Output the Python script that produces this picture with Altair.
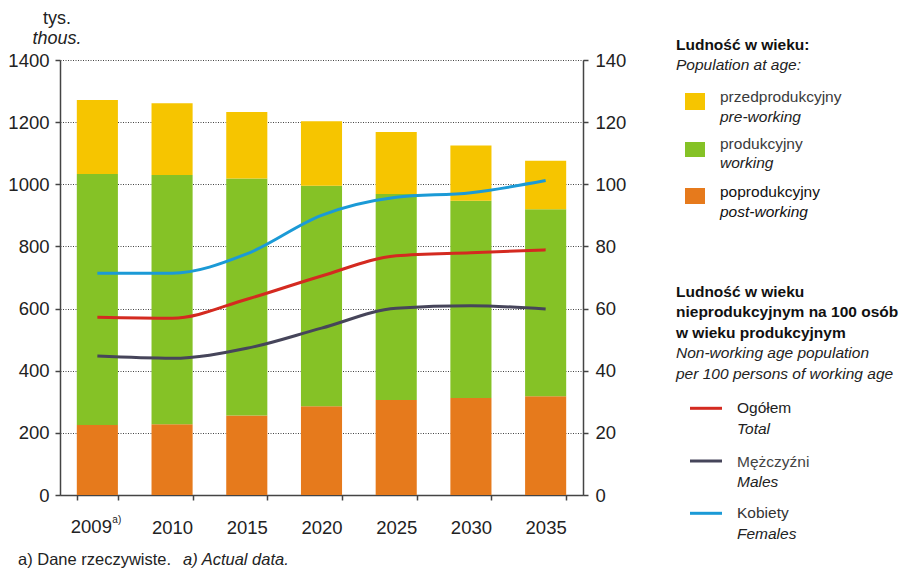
import altair as alt
import pandas as pd

FONT = "Liberation Sans"

years = ["2009", "2010", "2015", "2020", "2025", "2030", "2035"]
post_working = [225, 228, 256, 286, 306, 312, 318]
working = [808, 802, 763, 709, 663, 635, 602]
pre_working = [238, 231, 214, 208, 199, 178, 156]

total_ratio = [57.2, 56.9, 63.0, 70.5, 77.0, 78.0, 78.9]
males_ratio = [44.7, 44.0, 47.2, 53.7, 60.1, 60.9, 59.9]
females_ratio = [71.4, 71.4, 77.6, 90.0, 95.8, 97.3, 101.2]

bar_groups = ["poprodukcyjny", "produkcyjny", "przedprodukcyjny"]
bar_colors = ["#E67A1C", "#85C226", "#F6C500"]
line_groups = ["Ogółem", "Mężczyźni", "Kobiety"]
line_colors = ["#D42A20", "#46455A", "#1B9AD6"]

rows = []
for i, y in enumerate(years):
    for k, (g, arr) in enumerate(zip(bar_groups, [post_working, working, pre_working])):
        rows.append({"year": y, "group": g, "value": arr[i], "ord": k})
df_bars = pd.DataFrame(rows)

rows = []
for g, arr in zip(line_groups, [total_ratio, males_ratio, females_ratio]):
    for i, y in enumerate(years):
        rows.append({"year": y, "series": g, "ratio": arr[i]})
df_lines = pd.DataFrame(rows)

xscale = alt.Scale(domain=years, paddingInner=0.45, paddingOuter=0.225)

x_axis = alt.Axis(
    title=None, labelFont=FONT, labelFontSize=18.5, labelColor="#222",
    labelAngle=0, tickBand="extent", tickSize=5, tickColor="#444", tickWidth=1.5,
    domainColor="#444", domainWidth=1.5, labelPadding=18, grid=False,
    labelExpr="datum.value == '2009' ? '' : datum.label",
)

bars = alt.Chart(df_bars).mark_bar().encode(
    x=alt.X("year:N", scale=xscale, axis=x_axis, sort=years),
    y=alt.Y(
        "value:Q", stack="zero",
        scale=alt.Scale(domain=[0, 1400], nice=False),
        axis=alt.Axis(
            title=None, orient="left", values=list(range(0, 1401, 200)), format="d",
            labelFont=FONT, labelFontSize=18.5, labelColor="#222",
            tickSize=5, tickColor="#444", tickWidth=1.5, domainColor="#444", domainWidth=1.5,
            labelPadding=6, grid=True, gridColor="#444", gridDash=[1, 1.5], gridWidth=1,
        ),
    ),
    color=alt.Color("group:N", scale=alt.Scale(domain=bar_groups, range=bar_colors), legend=None),
    order=alt.Order("ord:Q"),
)

lines = alt.Chart(df_lines).mark_line(interpolate="monotone", strokeWidth=3).encode(
    x=alt.X("year:N", scale=xscale, sort=years, bandPosition=0.5),
    y=alt.Y(
        "ratio:Q",
        scale=alt.Scale(domain=[0, 140], nice=False),
        axis=alt.Axis(
            title=None, orient="right", values=list(range(0, 141, 20)), format="d",
            labelFont=FONT, labelFontSize=18.5, labelColor="#222",
            tickSize=5, tickColor="#444", tickWidth=1.5, domainColor="#444", domainWidth=1.5,
            labelPadding=7, grid=False,
        ),
    ),
    color=alt.Color("series:N", scale=alt.Scale(domain=line_groups, range=line_colors), legend=None),
)

one = pd.DataFrame({"k": [0]})


def txt(s, x, y, size=15.5, weight="normal", style="normal", color="#222", align="left", baseline="middle"):
    return alt.Chart(one).mark_text(
        text=s, font=FONT, fontSize=size, fontWeight=weight, fontStyle=style,
        color=color, align=align, baseline=baseline,
    ).encode(x=alt.value(x), y=alt.value(y))


def swatch(color, x1, x2, y1, y2):
    return alt.Chart(one).mark_rect(color=color).encode(
        x=alt.value(x1), x2=alt.value(x2), y=alt.value(y1), y2=alt.value(y2)
    )


def lswatch(color, x1, x2, y):
    return alt.Chart(one).mark_rule(color=color, strokeWidth=3).encode(
        x=alt.value(x1), x2=alt.value(x2), y=alt.value(y)
    )


first_year = pd.DataFrame({"year": ["2009"]})

label_2009 = alt.Chart(first_year).mark_text(
    text="2009", font=FONT, fontSize=18.5, color="#222", align="center", baseline="alphabetic", dx=-6
).encode(x=alt.X("year:N", scale=xscale, sort=years, bandPosition=0.5), y=alt.value(472.6))

sup = alt.Chart(first_year).mark_text(
    text="a)", font=FONT, fontSize=10, color="#222", align="left", baseline="alphabetic", dx=15
).encode(x=alt.X("year:N", scale=xscale, sort=years, bandPosition=0.5), y=alt.value(463))

extras = [
    txt("tys.", -3, -41.5, size=18, align="center"),
    txt("thous.", -3, -21, size=18, style="italic", align="center"),
    # legend 1
    txt("Ludność w wieku:", 616, -15, weight="bold", color="#111"),
    txt("Population at age:", 616, 5, style="italic"),
    swatch(bar_colors[2], 625, 645, 33, 50),
    swatch(bar_colors[1], 625, 645, 82, 97),
    swatch(bar_colors[0], 625, 645, 128, 144),
    txt("przedprodukcyjny", 660, 36.7, color="#3a3a3a"),
    txt("pre-working", 660, 56.7, style="italic"),
    txt("produkcyjny", 660, 84, color="#3a3a3a"),
    txt("working", 660, 103, style="italic"),
    txt("poprodukcyjny", 660, 131.7, color="#111"),
    txt("post-working", 660, 151.7, style="italic", color="#111"),
    # legend 2
    txt("Ludność w wieku", 616, 231.7, weight="bold", color="#111"),
    txt("nieprodukcyjnym na 100 osób", 616, 252.3, weight="bold", color="#111"),
    txt("w wieku produkcyjnym", 616, 273.3, weight="bold", color="#111"),
    txt("Non-working age population", 616, 293.3, style="italic"),
    txt("per 100 persons of working age", 616, 314.3, style="italic"),
    lswatch(line_colors[0], 630, 662, 348.3),
    lswatch(line_colors[1], 630, 662, 401),
    lswatch(line_colors[2], 630, 662, 453.3),
    txt("Ogółem", 677, 348, color="#222"),
    txt("Total", 677, 369.3, style="italic"),
    txt("Mężczyźni", 677, 401.7, color="#444"),
    txt("Males", 677, 422.3, style="italic"),
    txt("Kobiety", 677, 453.3, color="#333"),
    txt("Females", 677, 474.3, style="italic"),
    # footnote
    txt("a) Dane rzeczywiste.", -42, 500, size=16.5),
    txt("a) Actual data.", 123, 500, size=16.5, style="italic"),
    label_2009,
    sup,
]

chart = alt.layer(bars, lines, *extras).resolve_scale(
    y="independent", color="independent"
).properties(
    width=523, height=435,
    autosize=alt.AutoSizeParams(type="none"),
    padding={"left": 52, "top": 52, "right": 318, "bottom": 73},
).configure_view(stroke=None)

chart.save("out.html", embed_options={"renderer": "svg", "actions": False})
